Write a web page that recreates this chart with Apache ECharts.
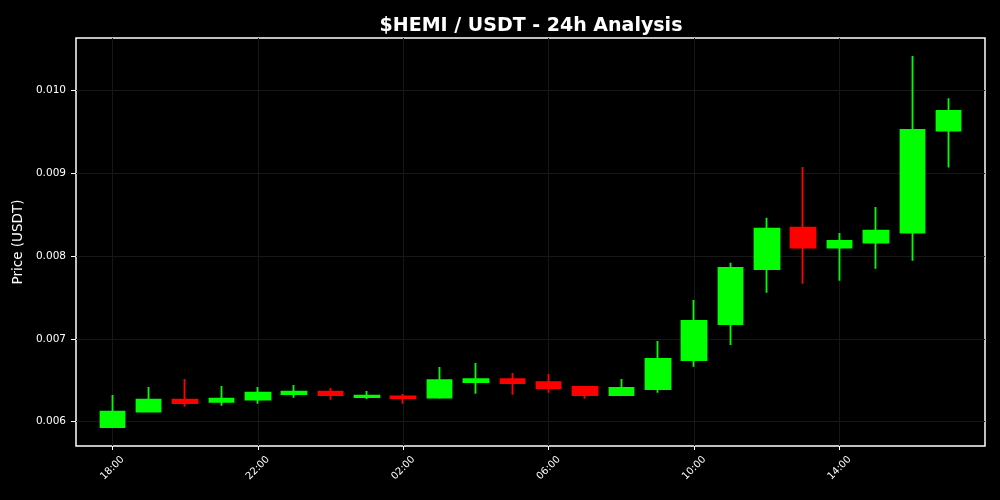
<!DOCTYPE html>
<html>
<head>
<meta charset="utf-8">
<script src="https://cdn.jsdelivr.net/npm/echarts@6/dist/echarts.min.js"></script>
<style>
html,body{margin:0;padding:0;background:#000;}
#chart{width:1000px;height:500px;}
</style>
</head>
<body>
<div id="chart"></div>
<script>
const times = ['18:00','19:00','20:00','21:00','22:00','23:00','00:00','01:00','02:00','03:00','04:00','05:00','06:00','07:00','08:00','09:00','10:00','11:00','12:00','13:00','14:00','15:00','16:00','17:00'];
const opens  = [0.005936,0.006121,0.006266,0.006241,0.006266,0.006334,0.006362,0.006298,0.006306,0.006290,0.006479,0.006515,0.006479,0.006419,0.006322,0.006395,0.006745,0.007179,0.007843,0.008342,0.008100,0.008161,0.008281,0.009513];
const closes = [0.006121,0.006266,0.006226,0.006278,0.006350,0.006362,0.006322,0.006314,0.006286,0.006503,0.006515,0.006467,0.006407,0.006322,0.006407,0.006757,0.007217,0.007855,0.008330,0.008100,0.008181,0.008306,0.009521,0.009751];
const lows   = [0.005928,0.006115,0.006181,0.006193,0.006217,0.006290,0.006266,0.006274,0.006217,0.006278,0.006338,0.006326,0.006350,0.006278,0.006318,0.006350,0.006664,0.006926,0.007557,0.007666,0.007702,0.007847,0.007943,0.009067];
const highs  = [0.006322,0.006419,0.006515,0.006431,0.006419,0.006443,0.006407,0.006370,0.006334,0.006660,0.006708,0.006588,0.006576,0.006431,0.006515,0.006974,0.007469,0.007919,0.008462,0.009074,0.008278,0.008591,0.010414,0.009904];
const yTicks = [0.006,0.007,0.008,0.009,0.010];
const yMin = 0.005707, yMax = 0.010631;

// pad one empty slot on each side (matplotlib-like margins)
const cats = [''].concat(times, ['']);
const candles = ['-'].concat(times.map((t,i)=>[opens[i],closes[i],lows[i],highs[i]]), ['-']);
const showIdx = (i)=> i>=1 && i<=times.length && (i-1)%4===0;

const chart = echarts.init(document.getElementById('chart'), null, {renderer:'canvas'});
chart.setOption({
  backgroundColor:'#000',
  animation:false,
  textStyle:{fontFamily:'DejaVu Sans'},
  title:{
    text:'$HEMI / USDT - 24h Analysis',
    left:526, top:12, textAlign:'center',
    textStyle:{color:'#fff',fontSize:19,fontWeight:'bold',fontFamily:'DejaVu Sans'}
  },
  grid:{left:76,right:15,top:38,bottom:54,show:true,borderColor:'#fff',borderWidth:1.5,backgroundColor:'#000'},
  xAxis:{
    type:'category', data:cats, boundaryGap:false,
    axisLine:{show:false},
    axisTick:{show:true,length:4,lineStyle:{color:'#fff'},interval:(i)=>showIdx(i)},
    axisLabel:{color:'#fff',fontSize:10,rotate:45,align:'center',verticalAlign:'middle',margin:22,
      interval:(i)=>showIdx(i)},
    splitLine:{show:true,interval:(i)=>showIdx(i),lineStyle:{color:'#171717',width:1}}
  },
  yAxis:{
    type:'value', min:yMin, max:yMax, scale:true,
    name:'Price (USDT)', nameLocation:'middle', nameGap:45,
    nameTextStyle:{color:'#fff',fontSize:13.5},
    axisLine:{show:false},
    axisTick:{show:true,length:5,lineStyle:{color:'#fff'},customValues:yTicks},
    axisLabel:{color:'#fff',fontSize:10.5,margin:10,customValues:yTicks,formatter:(v)=>v.toFixed(3)},
    splitLine:{show:true,lineStyle:{color:'#171717',width:1}}
  },
  series:[{
    type:'candlestick',
    data:candles,
    barWidth:25,
    itemStyle:{color:'#00ff00',color0:'#ff0000',borderColor:'#00ff00',borderColor0:'#ff0000',borderWidth:1.8}
  }]
});
</script>
</body>
</html>
